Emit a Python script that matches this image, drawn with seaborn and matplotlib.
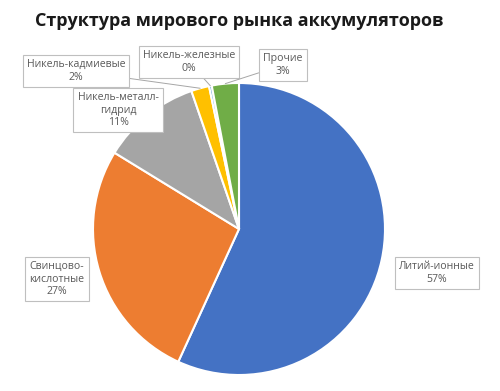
import matplotlib
matplotlib.use("Agg")
import matplotlib.pyplot as plt
import numpy as np
import seaborn as sns

categories = ["Литий-ионные", "Свинцово-кислотные", "Никель-металл-гидрид",
              "Никель-кадмиевые", "Никель-железные", "Прочие"]
label_texts = ["Литий-ионные", "Свинцово-\nкислотные", "Никель-металл-\nгидрид",
               "Никель-кадмиевые", "Никель-железные", "Прочие"]
shares = [57, 27, 11, 2, 0.3, 3]
percent_labels = ["57%", "27%", "11%", "2%", "0%", "3%"]
colors = ["#4472C4", "#ED7D31", "#A5A5A5", "#FFC000", "#5B9BD5", "#70AD47"]

sns.set_theme(style="white")
plt.rcParams["font.family"] = ["Open Sans", "DejaVu Sans"]

W, H = 500, 391
fig = plt.figure(figsize=(W / 100, H / 100), dpi=100)
ax = fig.add_axes([0, 0, 1, 1])

cx, cy, r = 239, H - 229, 146
wedges, _ = ax.pie(shares, colors=colors, startangle=90, counterclock=False,
                   center=(cx, cy), radius=r, frame=True,
                   wedgeprops=dict(edgecolor="white", linewidth=1.5))
ax.set_xlim(0, W)
ax.set_ylim(0, H)
ax.axis("off")

fig.text(0.478, 1 - 21 / H, "Структура мирового рынка аккумуляторов",
         ha="center", va="center", fontsize=13, fontweight="bold", color="#1a1a1a")

# box centres in pixels (from top-left)
box_pos = [(437, 273), (57, 279), (118, 110), (76, 71), (189, 62), (283, 65)]
leader = [False, False, False, True, True, True]

for w, txt, pct, (bx, by), lead in zip(wedges, label_texts, percent_labels, box_pos, leader):
    mid = np.deg2rad((w.theta1 + w.theta2) / 2)
    tip = (cx + r * np.cos(mid), cy + r * np.sin(mid))
    kw = dict(ha="center", va="center", fontsize=7.6, color="#595959",
              linespacing=1.2,
              bbox=dict(boxstyle="square,pad=0.4", fc="white", ec="#BFBFBF", lw=0.8))
    if lead:
        ax.annotate(f"{txt}\n{pct}", xy=tip, xytext=(bx, H - by),
                    arrowprops=dict(arrowstyle="-", color="#A6A6A6", lw=0.7,
                                    shrinkA=0, shrinkB=0), **kw)
    else:
        ax.text(bx, H - by, f"{txt}\n{pct}", **kw)

fig.savefig("out.png", dpi=100)
